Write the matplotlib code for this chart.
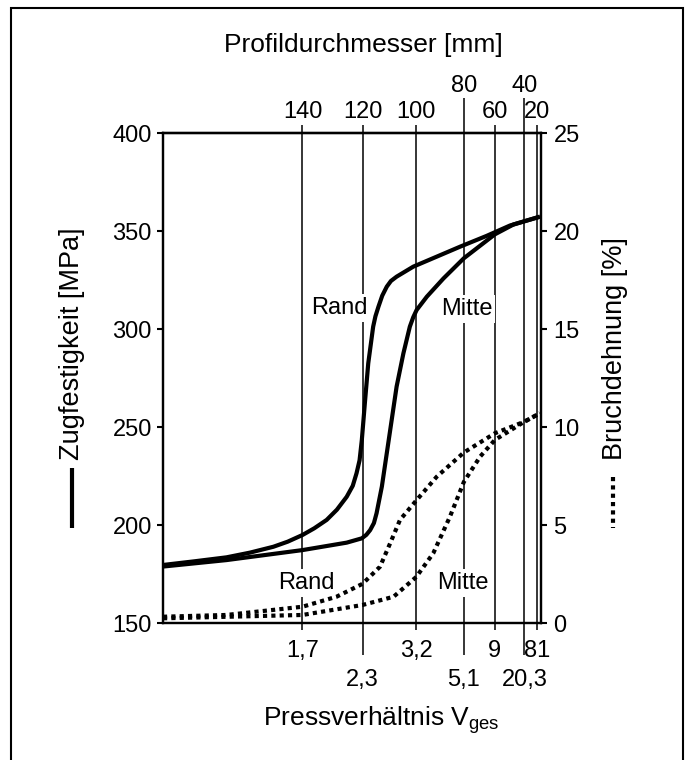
import matplotlib
matplotlib.use("Agg")
import matplotlib.pyplot as plt
from matplotlib.lines import Line2D
from matplotlib.patches import Rectangle

plt.rcParams['font.family'] = ['Liberation Sans', 'DejaVu Sans']
plt.rcParams['mathtext.fontset'] = 'custom'
plt.rcParams['mathtext.rm'] = 'Liberation Sans'
plt.rcParams['mathtext.it'] = 'Liberation Sans:italic'

# position of the reference lines along the (unscaled) die axis, 0..100
line_pos = [36.9, 52.8, 67.0, 79.6, 87.8, 95.6, 98.9]
diam_labels = ['140', '120', '100', '80', '60', '40', '20']
ratio_labels = ['1,7', '2,3', '3,2', '5,1', '9', '20,3', '81']

# Zugfestigkeit [MPa]
rand_x = [0, 8.0, 16.8, 23.0, 29.2, 33.0, 36.9, 40.0, 43.3, 46.0, 48.6, 50.2, 51.2,
          52.0, 52.6, 53.4, 54.3, 55.6, 56.2, 57.0, 58.0, 59.2, 60.3, 61.8, 66.2,
          72.4, 78.6, 85.6, 91.8, 99.7]
rand_mpa = [179.6, 181.4, 183.5, 185.9, 188.9, 191.5, 194.9, 198.3, 202.6, 207.8,
            214.4, 220.0, 226.4, 233.0, 243.4, 262.1, 282.5, 301.2, 306.5, 311.4,
            317.0, 321.6, 324.5, 326.7, 331.8, 336.9, 342.0, 347.5, 352.8, 357.3]
mitte_x = [0, 16.8, 36.9, 48.6, 52.6, 53.8, 54.8, 55.8, 56.5, 57.9, 59.2, 60.5,
           61.8, 63.6, 65.3, 66.2, 67.1, 69.8, 74.2, 79.6, 83.9, 87.8, 92.7, 99.7]
mitte_mpa = [178.8, 182.1, 187.2, 191.0, 193.2, 195.0, 197.4, 201.0, 206.0, 219.6,
             236.6, 253.6, 270.6, 287.6, 301.2, 306.0, 309.7, 316.5, 325.8, 336.1,
             342.5, 348.3, 353.3, 357.3]

# Bruchdehnung [%]
rand_bx = [0, 16.8, 36.9, 45.9, 52.8, 57.4, 60.1, 62.7, 67.0, 72.4, 79.6, 87.8, 95.6, 99.7]
rand_pct = [0.32, 0.41, 0.83, 1.34, 2.0, 2.87, 4.07, 5.26, 6.25, 7.46, 8.7, 9.68, 10.27, 10.7]
mitte_bx = [0, 36.9, 52.8, 61.0, 67.0, 71.5, 75.9, 79.6, 83.9, 87.8, 95.6, 99.7]
mitte_pct = [0.24, 0.41, 0.92, 1.34, 2.35, 3.56, 5.42, 7.2, 8.49, 9.34, 10.27, 10.7]

fig = plt.figure(figsize=(6.9, 7.6), dpi=100)
ax = fig.add_axes([163/690, 1-623/760, 378/690, 490/760])
ax2 = ax.twinx()

for p in line_pos:
    ax.axvline(p, color='k', lw=1.1, zorder=1)

ax.plot(rand_x, rand_mpa, color='k', lw=3, solid_capstyle='butt', solid_joinstyle='round', zorder=4)
ax.plot(mitte_x, mitte_mpa, color='k', lw=3, solid_capstyle='butt', solid_joinstyle='round', zorder=4)
ax2.plot(rand_bx, rand_pct, color='k', lw=3, ls=(0, (1, 1)), zorder=4)
ax2.plot(mitte_bx, mitte_pct, color='k', lw=3, ls=(0, (1, 1)), zorder=4)

box = dict(facecolor='white', edgecolor='none', pad=2)
ax.text(46.6, 310.7, 'Rand', fontsize=17, ha='center', va='center', bbox=box, zorder=2)
ax.text(80.4, 310.2, 'Mitte', fontsize=17, ha='center', va='center', bbox=box, zorder=2)
ax.text(37.8, 170.4, 'Rand', fontsize=17, ha='center', va='center', bbox=box, zorder=2)
ax.text(79.4, 170.4, 'Mitte', fontsize=17, ha='center', va='center', bbox=box, zorder=2)

ax.set_xlim(0, 100)
ax.set_ylim(150, 400)
ax2.set_ylim(0, 25)
ax.set_yticks([150, 200, 250, 300, 350, 400])
ax2.set_yticks([0, 5, 10, 15, 20, 25])

# bottom axis: staggered labels via major/minor ticks
low = [i for i in range(len(line_pos)) if i % 2 == 0]
high = [i for i in range(len(line_pos)) if i % 2 == 1]
ax.set_xticks([line_pos[i] for i in low], [ratio_labels[i] for i in low])
ax.set_xticks([line_pos[i] for i in high], [ratio_labels[i] for i in high], minor=True)
ax.tick_params(axis='x', which='major', direction='out', length=5, width=1.1, pad=7, labelsize=17)
ax.tick_params(axis='x', which='minor', direction='out', length=23, width=1.1, pad=10, labelsize=17)

top = ax.secondary_xaxis('top')
t_low = [0, 1, 2, 4, 6]
t_high = [3, 5]
top.set_xticks([line_pos[i] for i in t_low], [diam_labels[i] for i in t_low])
top.set_xticks([line_pos[i] for i in t_high], [diam_labels[i] for i in t_high], minor=True)
top.tick_params(axis='x', which='major', direction='out', length=6, width=1.1, pad=1, labelsize=17)
top.tick_params(axis='x', which='minor', direction='out', length=25, width=1.1, pad=1, labelsize=17)
top.spines['top'].set_linewidth(1.6)

ax.tick_params(axis='y', direction='out', length=4, width=1.5, pad=4, labelsize=17)
ax2.tick_params(axis='y', direction='out', length=4, width=1.5, pad=5, labelsize=17)
for a in (ax, ax2):
    for s in a.spines.values():
        s.set_linewidth(1.6)

fig.text(363/690, 1-45/760, 'Profildurchmesser [mm]', fontsize=19, ha='center', va='center')
fig.text(381/690, 1-720/760, 'Pressverhältnis V$_{\\mathrm{ges}}$', fontsize=19, ha='center', va='center')
fig.text(72/690, 1-343.5/760, 'Zugfestigkeit [MPa]', fontsize=19.5, rotation=90, ha='center', va='center')
fig.text(615/690, 1-348.5/760, 'Bruchdehnung [%]', fontsize=19.5, rotation=90, ha='center', va='center')

# legend strokes beside the axis labels
fig.add_artist(Line2D([72/690, 72/690], [1-468/760, 1-528/760], color='k', lw=3,
                      solid_capstyle='butt', transform=fig.transFigure))
fig.add_artist(Line2D([613/690, 613/690], [1-477/760, 1-528/760], color='k', lw=3,
                      ls=(0, (1, 1)), transform=fig.transFigure))

# outer frame
fig.add_artist(Rectangle((11/690, -0.02), (683-11)/690, (760-8)/760 + 0.02,
                         fill=False, edgecolor='k', lw=1.5, transform=fig.transFigure))

fig.savefig('out.png', dpi=100)
